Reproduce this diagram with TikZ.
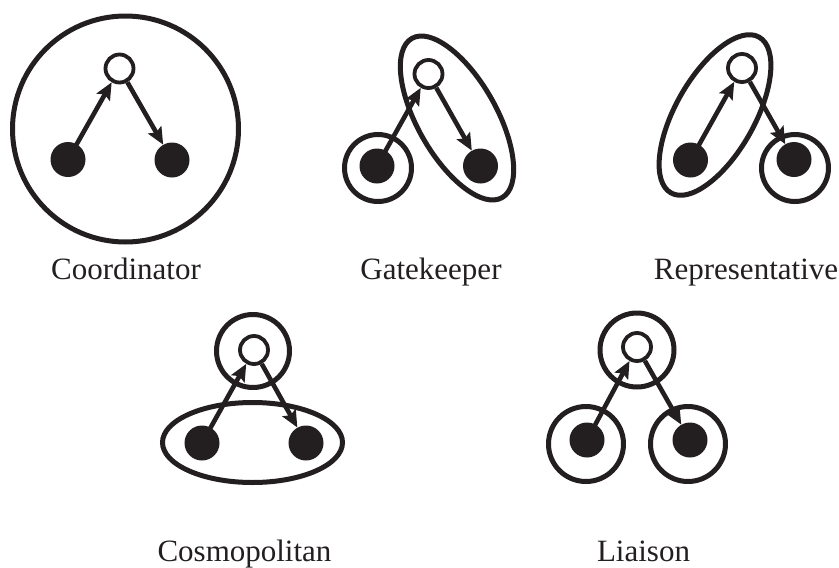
\documentclass[tikz,border=0pt]{standalone}
\usepackage{fontspec}
\setmainfont{Liberation Serif}
\usetikzlibrary{arrows.meta}
\definecolor{ink}{RGB}{35,31,32}
\begin{document}
\begin{tikzpicture}[x=1pt,y=-1pt,
  wnode/.style={circle,draw=ink,fill=white,line width=3.8pt,minimum size=28pt,inner sep=0pt},
  bnode/.style={circle,fill=ink,minimum size=35pt,inner sep=0pt},
  ring/.style={draw=ink,line width=5pt},
  arr/.style={draw=ink,line width=4.6pt,-{Stealth[length=17pt,width=15pt,inset=3pt]}},
  lab/.style={anchor=base,text=ink,font=\fontsize{31}{37}\selectfont,inner sep=0pt}]
\fill[white] (0,0) rectangle (839,568);
\useasboundingbox (0,0) rectangle (839,568);

% Coordinator
\draw[ring] (125.5,129) circle [radius=113pt];
\node[wnode] (cw) at (119.5,68.5) {};
\node[bnode] (cl) at (68,159.5) {};
\node[bnode] (cr) at (172,160) {};
\draw[arr] (cl.center) -- (cw);
\draw[arr] (cw) -- (cr);
\node[lab] (cL) at (126,279) {Coordinator};

% Gatekeeper
\draw[ring] (378,168) circle [radius=33.5pt];
\draw[ring,rotate around={-60.5:(457,118)}] (457,118) ellipse [x radius=91.5pt, y radius=39.5pt];
\node[wnode] (gw) at (428.5,74) {};
\node[bnode] (gl) at (377,166) {};
\node[bnode] (gr) at (480.5,166) {};
\draw[arr] (gl.center) -- (gw);
\draw[arr] (gw) -- (gr);
\node[lab] (gL) at (431,279) {Gatekeeper};

% Representative
\draw[ring] (795,168) circle [radius=33.5pt];
\draw[ring,rotate around={60.5:(715,115)}] (715,115) ellipse [x radius=89.5pt, y radius=39.5pt];
\node[wnode] (rw) at (742,68) {};
\node[bnode] (rl) at (690.5,160) {};
\node[bnode] (rr) at (794,159.5) {};
\draw[arr] (rl.center) -- (rw);
\draw[arr] (rw) -- (rr);
\node[lab] (rL) at (746,279) {Representative};

% Cosmopolitan
\draw[ring] (253,351) circle [radius=36.5pt];
\draw[ring] (252.5,442.5) ellipse [x radius=90pt, y radius=40pt];
\node[wnode] (mw) at (254,350) {};
\node[bnode] (ml) at (202,443) {};
\node[bnode] (mr) at (306,443) {};
\draw[arr] (ml.center) -- (mw);
\draw[arr] (mw) -- (mr);
\node[lab] (mL) at (244.5,561) {Cosmopolitan};

% Liaison
\draw[ring] (637,350) circle [radius=37pt];
\draw[ring] (586,444) circle [radius=37.5pt];
\draw[ring] (688,444) circle [radius=37.5pt];
\node[wnode] (lw) at (637,347) {};
\node[bnode] (ll) at (587,440) {};
\node[bnode] (lr) at (690,440) {};
\draw[arr] (ll.center) -- (lw);
\draw[arr] (lw) -- (lr);
\node[lab] (lL) at (643.5,561) {Liaison};
\end{tikzpicture}
\end{document}
